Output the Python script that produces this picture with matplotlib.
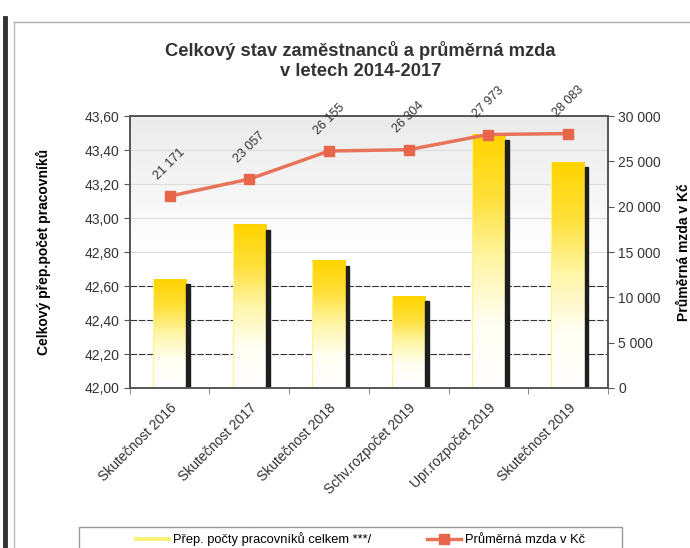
import numpy as np
import matplotlib
matplotlib.use('Agg')
import matplotlib.pyplot as plt
from matplotlib.colors import LinearSegmentedColormap
from matplotlib.patches import Rectangle
from matplotlib.lines import Line2D
from matplotlib.ticker import FuncFormatter

plt.rcParams['font.family'] = ['Liberation Sans', 'DejaVu Sans']

kategorie = ['Skutečnost 2016', 'Skutečnost 2017', 'Skutečnost 2018',
             'Schv.rozpočet 2019', 'Upr.rozpočet 2019', 'Skutečnost 2019']
pocty = [42.64, 42.96, 42.75, 42.54, 43.49, 43.33]
mzda = [21171, 23057, 26155, 26304, 27973, 28083]
mzda_popisky = ['21 171', '23 057', '26 155', '26 304', '27 973', '28 083']

fig = plt.figure(figsize=(6.9, 5.48), dpi=100)
ax = fig.add_axes([0.188, 0.292, 0.693, 0.496])
ax2 = ax.twinx()

x = np.arange(len(kategorie))

# pozadi grafu - sedy prechod
bg = LinearSegmentedColormap.from_list('bg', ['#ffffff', '#ffffff', '#ebebeb'])
ax.imshow(np.linspace(0, 1, 100).reshape(-1, 1), cmap=bg, aspect='auto',
          extent=[0, 1, 0, 1], transform=ax.transAxes, origin='lower', zorder=0)

# sloupce s prechodem zluta -> bila
grad = LinearSegmentedColormap.from_list('zluta', ['#ffffff', '#fffef2', '#fff6a8', '#ffe03a', '#ffd400'])
bars = ax.bar(x, np.array(pocty) - 42.0, bottom=42.0, width=0.42, color='none', zorder=2)
for b in bars:
    x0, y0 = b.get_x(), b.get_y()
    w, h = b.get_width(), b.get_height()
    ax.imshow(np.linspace(0, 1, 100).reshape(-1, 1), cmap=grad, aspect='auto',
              extent=[x0, x0 + w, y0, y0 + h], origin='lower', zorder=2)
    # tenka zluta hrana vlevo
    ax.plot([x0, x0], [y0, y0 + h], color='#fff38a', lw=0.8, zorder=2)
    # stin vpravo
    ax.add_patch(Rectangle((x0 + w, y0), 0.045, h - 0.03, color='#1e1e1e', zorder=2))

ax.set_xlim(-0.5, len(kategorie) - 0.5)
ax.set_ylim(42.0, 43.6)
ax2.set_ylim(0, 30000)

ax.set_yticks(np.arange(42.0, 43.61, 0.2))
ax.yaxis.set_major_formatter(FuncFormatter(lambda v, p: f'{v:.2f}'.replace('.', ',')))
ax.grid(axis='y', color='#dcdcdc', lw=0.8, zorder=1)
for t, gl in zip(ax.get_yticks(), ax.get_ygridlines()):
    if 42.1 < t < 42.7:
        gl.set_color('#333333')
        gl.set_linestyle((0, (6, 1.5)))
        gl.set_linewidth(0.8)

ax.set_xticks(x)
ax.set_xticklabels(kategorie, rotation=45, ha='right', rotation_mode='anchor', fontsize=10, color='#333333')
ax.set_xticks(np.arange(-0.5, len(kategorie)), minor=True)
ax.tick_params(axis='x', which='major', length=0, pad=9)
ax.tick_params(axis='x', which='minor', length=4, color='#777777')
ax.tick_params(axis='y', labelsize=10, labelcolor='#333333', length=4, color='#555555')

ax2.set_yticks(np.arange(0, 30001, 5000))
ax2.yaxis.set_major_formatter(FuncFormatter(lambda v, p: f'{int(v):,}'.replace(',', ' ')))
ax2.tick_params(axis='y', labelsize=10, labelcolor='#333333', length=4, color='#555555')

for a in (ax, ax2):
    for s in a.spines.values():
        s.set_color('#555555')
        s.set_linewidth(1.2)

# prumerna mzda
linie, = ax2.plot(x, mzda, color='#e8735a', lw=2.5, marker='s', markersize=7,
                  markerfacecolor='#e8654a', markeredgecolor='#e8654a', zorder=4)
for xi, yi, txt in zip(x, mzda, mzda_popisky):
    ax2.annotate(txt, (xi, yi), xytext=(0, 23), textcoords='offset points',
                 ha='center', va='center', rotation=45, fontsize=9, color='#333333',
                 annotation_clip=False)

ax.set_ylabel('Celkový přep.počet pracovníků', fontsize=10, fontweight='bold')
ax.yaxis.set_label_coords(-0.165, 0.5)
ax2.set_ylabel('Průměrná mzda v Kč', fontsize=10, fontweight='bold')
ax2.yaxis.set_label_coords(1.145, 0.5)

fig.text(0.522, 0.89, 'Celkový stav zaměstnanců a průměrná mzda\nv letech 2014-2017',
         ha='center', va='center', fontsize=13.2, fontweight='bold', color='#333333', linespacing=1.2)

# okraje stranky
fig.add_artist(Line2D([0.007, 0.007], [0, 0.968], transform=fig.transFigure, color='#333333', lw=3.5))
fig.add_artist(Line2D([0.02, 0.02], [0, 0.96], transform=fig.transFigure, color='#bbbbbb', lw=1))
fig.add_artist(Line2D([0.02, 1.0], [0.96, 0.96], transform=fig.transFigure, color='#aaaaaa', lw=1))

# legenda
fig.add_artist(Rectangle((0.115, -0.05), 0.786, 0.088, transform=fig.transFigure,
                         fill=False, edgecolor='#999999', lw=1))
zluta = Line2D([], [], color='#f6f27a', lw=3)
fig.legend([zluta, linie], ['Přep. počty pracovníků celkem ***/', 'Průměrná mzda v Kč'],
           loc='center', bbox_to_anchor=(0.522, 0.016), ncol=2, frameon=False,
           fontsize=9.3, handlelength=2.6, columnspacing=4.3, handletextpad=0.3)

fig.savefig('out.png', dpi=100)
